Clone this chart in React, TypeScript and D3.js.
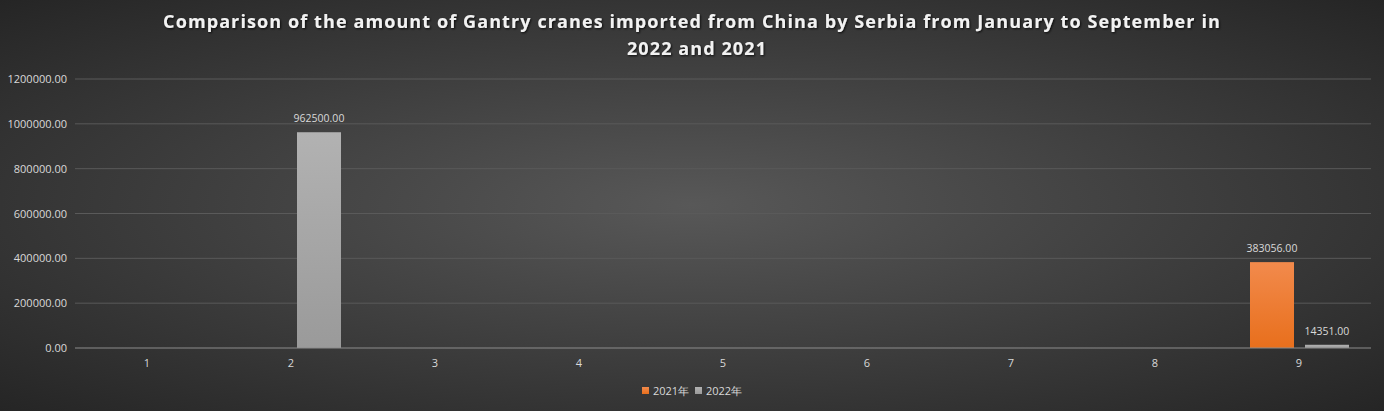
import React from "react";
import * as d3 from "d3";

const categories = ["1", "2", "3", "4", "5", "6", "7", "8", "9"];
const series2021 = [0, 0, 0, 0, 0, 0, 0, 0, 383056];
const series2022 = [0, 962500, 0, 0, 0, 0, 0, 0, 14351];
const yTicks = [0, 200000, 400000, 600000, 800000, 1000000, 1200000];
const seriesNames = ["2021年", "2022年"];

const W = 1384;
const H = 411;

export default function App() {
  const x = d3.scaleBand<string>().domain(categories).range([75, 1371]);
  const inner = d3.scaleBand<string>().domain(seriesNames).range([-49, 50]).paddingInner(0.2);
  const y = d3.scaleLinear().domain([0, 1200000]).range([348, 79]);
  const data = [series2021, series2022];
  const fills = ["url(#gOrange)", "url(#gGray)"];
  const font = "'Open Sans', 'DejaVu Sans', sans-serif";

  return (
    <svg width={W} height={H} style={{ position: "absolute", left: 0, top: 0 }}>
      <defs>
        <radialGradient id="bg" cx="50%" cy="50%" r="75%" gradientUnits="objectBoundingBox">
          <stop offset="0%" stopColor="#585858" />
          <stop offset="100%" stopColor="#222222" />
        </radialGradient>
        <linearGradient id="gOrange" x1="0" y1="0" x2="0" y2="1">
          <stop offset="0%" stopColor="#f28a4c" />
          <stop offset="100%" stopColor="#e86f1c" />
        </linearGradient>
        <linearGradient id="gGray" x1="0" y1="0" x2="0" y2="1">
          <stop offset="0%" stopColor="#b2b2b2" />
          <stop offset="100%" stopColor="#9a9a9a" />
        </linearGradient>
        <filter id="shadow" x="-5%" y="-20%" width="110%" height="140%">
          <feDropShadow dx="1" dy="1" stdDeviation="0.8" floodColor="#000" floodOpacity="0.8" />
        </filter>
      </defs>
      <rect x={0} y={0} width={W} height={H} fill="url(#bg)" />
      <g filter="url(#shadow)" fill="#f2f2f2" fontFamily={font} fontWeight="bold" fontSize={18} letterSpacing={1.1} textAnchor="middle">
        <text x={692} y={28}>Comparison of the amount of Gantry cranes imported from China by Serbia from January to September in</text>
        <text x={697} y={55}>2022 and 2021</text>
      </g>
      {yTicks.map((t) => (
        <g key={t}>
          {t !== 0 && <line x1={75} x2={1371} y1={y(t)} y2={y(t)} stroke="#5a5a5a" strokeWidth={1} />}
          <text x={67} y={y(t) + 4} fill="#d9d9d9" fontFamily={font} fontSize={11} textAnchor="end">
            {t.toFixed(2)}
          </text>
        </g>
      ))}
      {categories.map((c) => (
        <text key={c} x={(x(c) as number) + x.bandwidth() / 2} y={367} fill="#d9d9d9" fontFamily={font} fontSize={11} textAnchor="middle">
          {c}
        </text>
      ))}
      {data.map((s, si) =>
        s.map((v, i) => {
          if (!v) return null;
          const cx = (x(categories[i]) as number) + x.bandwidth() / 2;
          const bx = cx + (inner(seriesNames[si]) as number);
          return (
            <g key={`${si}-${i}`}>
              <rect x={bx} y={y(v)} width={inner.bandwidth()} height={y(0) - y(v)} fill={fills[si]} />
              <text x={bx + inner.bandwidth() / 2} y={y(v) - 10} fill="#d9d9d9" fontFamily={font} fontSize={10.5} textAnchor="middle">
                {v.toFixed(2)}
              </text>
            </g>
          );
        })
      )}
      <line x1={75} x2={1371} y1={y(0)} y2={y(0)} stroke="#8c8c8c" strokeWidth={1} />
      <g fontFamily={font} fontSize={11} fill="#d9d9d9">
        <rect x={642} y={387} width={7} height={7} fill="url(#gOrange)" />
        <text x={653} y={395}>{seriesNames[0]}</text>
        <rect x={695} y={387} width={7} height={7} fill="url(#gGray)" />
        <text x={706} y={395}>{seriesNames[1]}</text>
      </g>
    </svg>
  );
}
